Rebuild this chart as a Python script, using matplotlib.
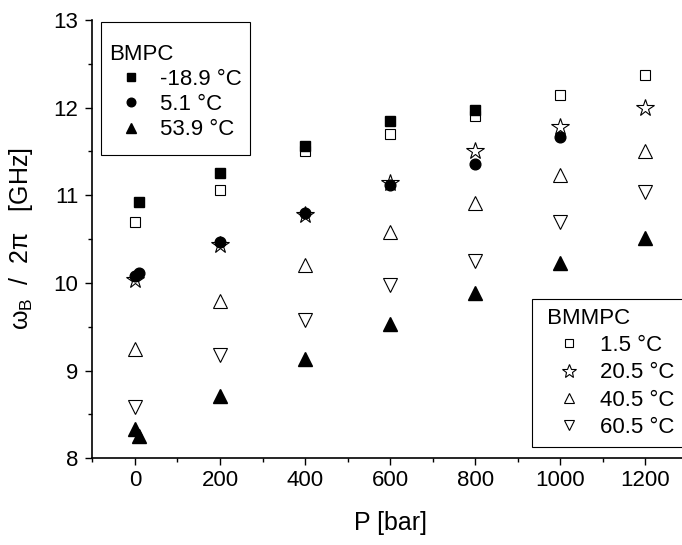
import matplotlib
matplotlib.use("Agg")
import matplotlib.pyplot as plt
from matplotlib.lines import Line2D
from matplotlib.offsetbox import DrawingArea

plt.rcParams['font.family'] = ['Liberation Sans', 'DejaVu Sans']
plt.rcParams['mathtext.fontset'] = 'custom'
plt.rcParams['mathtext.rm'] = 'Liberation Sans'
plt.rcParams['mathtext.it'] = 'Liberation Sans'

# BMPC (filled markers)
bmpc_sq_p = [10, 200, 400, 600, 800]
bmpc_sq_v = [10.92, 11.25, 11.56, 11.85, 11.97]
bmpc_ci_p = [0, 10, 200, 400, 600, 800, 1000]
bmpc_ci_v = [10.08, 10.11, 10.47, 10.80, 11.12, 11.36, 11.66]
bmpc_tr_p = [0, 10, 200, 400, 600, 800, 1000, 1200]
bmpc_tr_v = [8.33, 8.26, 8.71, 9.13, 9.53, 9.89, 10.23, 10.51]
bmpc_labels = ['-18.9 °C', '5.1 °C', '53.9 °C']

# BMMPC (open markers)
bmmpc_p = [0, 200, 400, 600, 800, 1000, 1200]
bmmpc_sq_v = [10.70, 11.06, 11.51, 11.70, 11.90, 12.15, 12.37]
bmmpc_st_v = [10.03, 10.43, 10.77, 11.14, 11.50, 11.78, 12.00]
bmmpc_up_v = [9.25, 9.80, 10.21, 10.58, 10.91, 11.23, 11.50]
bmmpc_dn_v = [8.58, 9.18, 9.58, 9.98, 10.25, 10.70, 11.04]
bmmpc_labels = ['1.5 °C', '20.5 °C', '40.5 °C', '60.5 °C']

xticks = [0, 200, 400, 600, 800, 1000, 1200]
yticks = [8, 9, 10, 11, 12, 13]

fig = plt.figure(figsize=(6.82, 5.45), dpi=100)
ax = fig.add_axes([92.3 / 682, (545 - 458.3) / 545, (688 - 92.3) / 682, (458.3 - 20) / 545])

ow = dict(ls='none', mfc='white', mec='black', mew=0.8)
# open markers (BMMPC)
ax.plot(bmmpc_p, bmmpc_sq_v, marker='s', ms=7.2, **ow)
ax.plot(bmmpc_p, bmmpc_st_v, marker='*', ms=13, **ow)
ax.plot(bmmpc_p, bmmpc_up_v, marker='^', ms=9.5, **ow)
ax.plot(bmmpc_p, bmmpc_dn_v, marker='v', ms=9.5, **ow)

# filled markers (BMPC)
ax.plot(bmpc_sq_p, bmpc_sq_v, ls='none', marker='s', ms=7.2, color='black')
ax.plot(bmpc_ci_p, bmpc_ci_v, ls='none', marker='o', ms=7.7, color='black')
ax.plot(bmpc_tr_p, bmpc_tr_v, ls='none', marker='^', ms=9.5, color='black')

ax.set_xlim(-100, 1300)
ax.set_ylim(8, 13)
ax.set_xticks(xticks)
ax.set_yticks(yticks)
ax.set_xticks(range(-100, 1301, 200), minor=True)
ax.set_yticks([8.5, 9.5, 10.5, 11.5, 12.5], minor=True)
ax.tick_params(which='major', direction='out', length=5, width=1, labelsize=16)
ax.tick_params(axis='y', which='major', pad=5)
ax.tick_params(which='minor', direction='out', length=3, width=1)
for s in ['top', 'right']:
    ax.spines[s].set_visible(False)
for s in ['left', 'bottom']:
    ax.spines[s].set_linewidth(1.2)

ax.set_xlabel('P [bar]', fontsize=18, labelpad=14)
ax.set_ylabel(r'$\omega_\mathrm{B}$  /  2π   [GHz]', fontsize=18, labelpad=13)

common = dict(borderaxespad=0, fontsize=16, title_fontsize=16, frameon=True, fancybox=False,
              edgecolor='black', framealpha=1, alignment='left',
              bbox_transform=fig.transFigure)

h1 = [Line2D([], [], ls='none', marker='s', ms=5.8, color='black'),
      Line2D([], [], ls='none', marker='o', ms=6.2, color='black'),
      Line2D([], [], ls='none', marker='^', ms=7.5, color='black')]
leg1 = fig.legend(h1, bmpc_labels, title='BMPC', loc='upper left',
                  bbox_to_anchor=(100.7 / 682, 1 - 21.7 / 545),
                  labelspacing=0.19, borderpad=0.375, handletextpad=0.31,
                  handlelength=2.0, **common)
leg1.get_frame().set_linewidth(0.8)
leg1._legend_box._children.insert(0, DrawingArea(1, 6.8))
leg1._legend_box._children.append(DrawingArea(1, 1.6))

h2 = [Line2D([], [], marker='s', ms=6, **ow),
      Line2D([], [], marker='*', ms=10, **ow),
      Line2D([], [], marker='^', ms=7.5, **ow),
      Line2D([], [], marker='v', ms=7.5, **ow)]
leg2 = fig.legend(h2, bmmpc_labels, title=' BMMPC', loc='lower left',
                  bbox_to_anchor=(532 / 682, 1 - 446.7 / 545),
                  labelspacing=0.28, borderpad=0.4, handletextpad=0.1,
                  handlelength=2.56, **common)
leg2.get_frame().set_linewidth(0.8)

fig.savefig('out.png', dpi=100)
